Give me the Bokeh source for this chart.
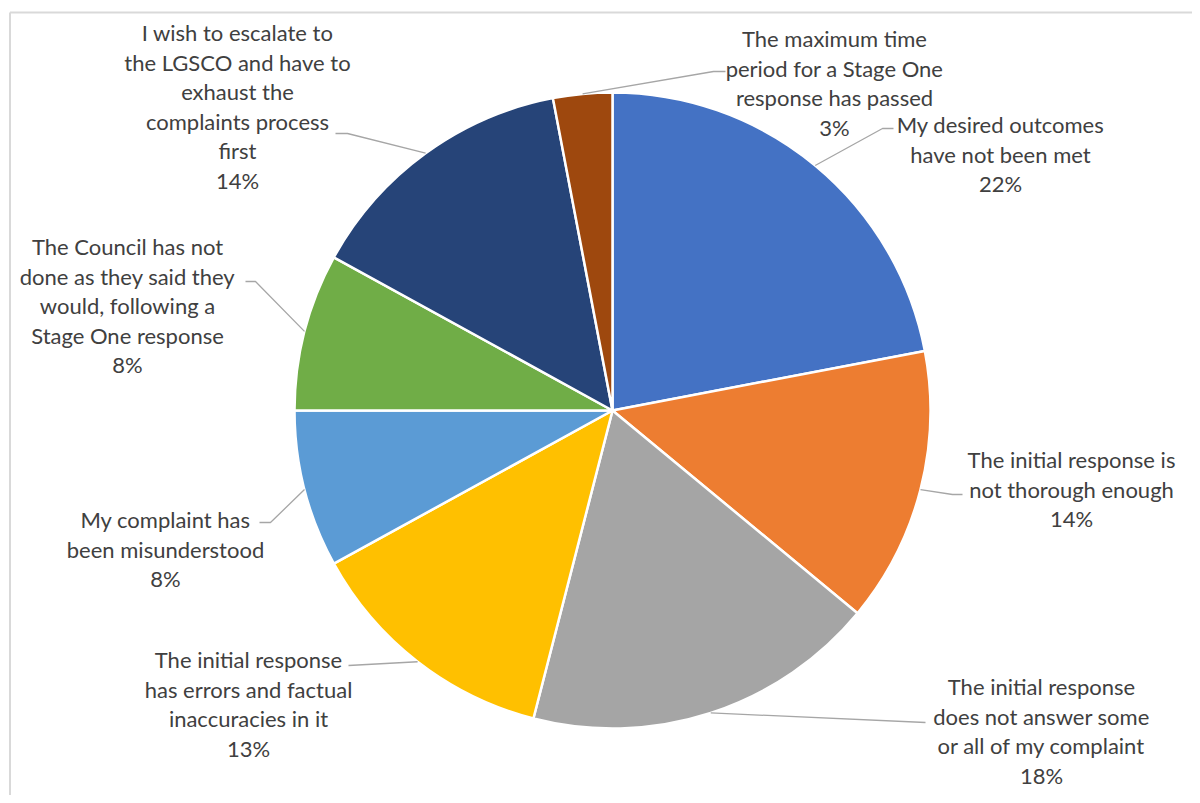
import math
from bokeh.plotting import figure
from bokeh.models import Range1d, ColumnDataSource
from bokeh.core.properties import value
from bokeh.embed import file_html
from bokeh.resources import INLINE

# ---- data ----
categories = [
    "My desired outcomes have not been met",
    "The initial response is not thorough enough",
    "The initial response does not answer some or all of my complaint",
    "The initial response has errors and factual inaccuracies in it",
    "My complaint has been misunderstood",
    "The Council has not done as they said they would, following a Stage One response",
    "I wish to escalate to the LGSCO and have to exhaust the complaints process first",
    "The maximum time period for a Stage One response has passed",
]
percent = [22, 14, 18, 13, 8, 8, 14, 3]
wrapped = [
    ["My desired outcomes", "have not been met"],
    ["The initial response is", "not thorough enough"],
    ["The initial response", "does not answer some", "or all of my complaint"],
    ["The initial response", "has errors and factual", "inaccuracies in it"],
    ["My complaint has", "been misunderstood"],
    ["The Council has not", "done as they said they", "would, following a", "Stage One response"],
    ["I wish to escalate to", "the LGSCO and have to", "exhaust the", "complaints process", "first"],
    ["The maximum time", "period for a Stage One", "response has passed"],
]
colors = ["#4472C4", "#ED7D31", "#A5A5A5", "#FFC000", "#5B9BD5", "#70AD47", "#264478", "#9E480E"]

# ---- layout (screen pixels) ----
W, H = 1192, 795
def Y(sy):
    return 803 - sy

CX, CY, R = 612, 410, 318
label_anchor = [  # centre x, first-line y
    (1000, 124), (1071, 459), (1041, 686), (248, 659),
    (165, 519), (127, 246), (237, 32), (834, 38),
]
LINE_H = 29.5
leader_mid = [
    [(882, 128), (893, 128)],
    [(952, 494), (962, 494)],
    [(925, 722)],
    [(348, 665)],
    [(270, 522), (259, 522)],
    [(255, 281), (245, 281)],
    [(347, 133), (335, 133)],
    [(713, 71), (725, 71)],
]

p = figure(width=W, height=H, output_backend="svg", toolbar_location=None,
           x_range=Range1d(0, W), y_range=Range1d(803 - H, 803),
           min_border=0, outline_line_color=None)
p.axis.visible = False
p.xgrid.visible = False
p.ygrid.visible = False
p.background_fill_color = "white"
p.border_fill_color = "white"

# chart border (left and top visible)
p.line([9.5, 9.5], [Y(12), Y(803)], line_color="#D9D9D9", line_width=2)
p.line([9.5, 1200], [Y(12), Y(12)], line_color="#D9D9D9", line_width=2)

total = sum(percent)
cum = 0
starts, ends, mids = [], [], []
for v in percent:
    a0 = cum / total
    cum += v
    a1 = cum / total
    starts.append(math.pi / 2 - 2 * math.pi * a0)
    ends.append(math.pi / 2 - 2 * math.pi * a1)
    mids.append((a0 + a1) / 2)

src = ColumnDataSource(dict(start=starts, end=ends, color=colors, cat=categories, pct=percent))
p.wedge(x=CX, y=Y(CY), radius=R, start_angle="start", end_angle="end",
        direction="clock", fill_color="color", line_color="white", line_width=2.5, source=src)

# leader lines
for i, m in enumerate(mids):
    ang = 2 * math.pi * m
    sx = CX + R * math.sin(ang)
    sy = CY - R * math.cos(ang)
    pts = [(sx, sy)] + leader_mid[i]
    p.line([q[0] for q in pts], [Y(q[1]) for q in pts], line_color="#A6A6A6", line_width=1.3)

# labels
xs, ys, ts = [], [], []
for i, lines in enumerate(wrapped):
    cx, y0 = label_anchor[i]
    all_lines = lines + [f"{percent[i]}%"]
    for k, t in enumerate(all_lines):
        xs.append(cx)
        ys.append(Y(y0 + k * LINE_H))
        ts.append(t)
p.text(x=xs, y=ys, text=ts, text_align="center", text_baseline="middle",
       text_font=value("Lato"), text_font_size="22px", text_color="#404040")

open("out.html", "w").write(file_html(p, INLINE))
